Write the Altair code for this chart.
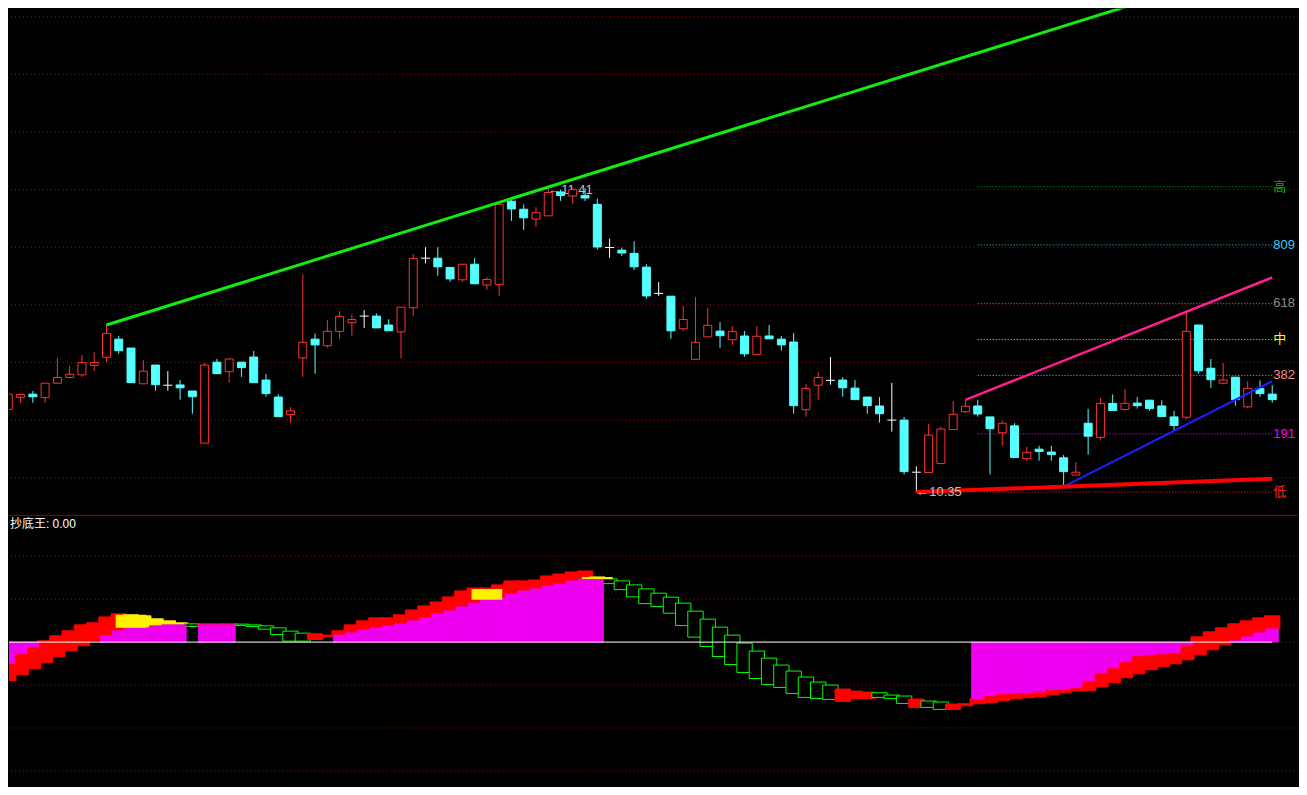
import altair as alt
import pandas as pd

# ---------------- price panel data (daily candles) ----------------
idx = list(range(104))
open_ = [10.637, 10.679, 10.690, 10.678, 10.728, 10.748, 10.757, 10.790, 10.818, 10.881,
         10.850, 10.726, 10.791, 10.721, 10.722, 10.701, 10.520, 10.801, 10.768, 10.801,
         10.819, 10.739, 10.680, 10.619, 10.816, 10.881, 10.858, 10.908, 10.938, 10.961,
         10.961, 10.930, 10.906, 10.990, 11.162, 11.162, 11.130, 11.087, 11.141, 11.069,
         11.071, 11.360, 11.332, 11.298, 11.309, 11.392, 11.378, 11.380, 11.349, 11.199,
         11.190, 11.179, 11.131, 11.040, 11.030, 10.917, 10.811, 10.889, 10.909, 10.879,
         10.892, 10.828, 10.892, 10.881, 10.871, 10.636, 10.721, 10.738, 10.739, 10.711,
         10.680, 10.649, 10.600, 10.600, 10.419, 10.418, 10.449, 10.567, 10.629, 10.649,
         10.611, 10.556, 10.580, 10.466, 10.499, 10.489, 10.469, 10.409, 10.589, 10.540,
         10.658, 10.637, 10.659, 10.669, 10.649, 10.611, 10.610, 10.930, 10.780, 10.728,
         10.749, 10.646, 10.710, 10.690]
high = [10.746, 10.689, 10.701, 10.728, 10.815, 10.788, 10.826, 10.836, 10.930, 10.892,
        10.850, 10.808, 10.791, 10.770, 10.739, 10.701, 10.799, 10.812, 10.816, 10.801,
        10.840, 10.760, 10.690, 10.645, 11.106, 10.901, 10.947, 10.978, 10.967, 10.982,
        10.970, 10.950, 10.992, 11.176, 11.200, 11.200, 11.130, 11.141, 11.162, 11.096,
        11.349, 11.365, 11.349, 11.339, 11.410, 11.400, 11.405, 11.405, 11.369, 11.230,
        11.199, 11.221, 11.141, 11.079, 11.030, 10.996, 11.027, 10.990, 10.940, 10.926,
        10.909, 10.926, 10.930, 10.892, 10.902, 10.725, 10.767, 10.819, 10.749, 10.739,
        10.680, 10.680, 10.729, 10.611, 10.439, 10.587, 10.577, 10.666, 10.670, 10.670,
        10.611, 10.598, 10.589, 10.507, 10.511, 10.511, 10.479, 10.455, 10.639, 10.677,
        10.689, 10.708, 10.680, 10.669, 10.669, 10.632, 10.976, 10.930, 10.812, 10.798,
        10.749, 10.735, 10.738, 10.721]
low = [10.560, 10.660, 10.660, 10.660, 10.728, 10.748, 10.750, 10.771, 10.802, 10.830,
       10.730, 10.726, 10.702, 10.702, 10.671, 10.622, 10.520, 10.761, 10.730, 10.750,
       10.730, 10.681, 10.612, 10.591, 10.750, 10.761, 10.851, 10.882, 10.893, 10.920,
       10.920, 10.910, 10.814, 10.962, 11.144, 11.101, 11.080, 11.080, 11.073, 11.052,
       11.031, 11.291, 11.260, 11.270, 11.309, 11.361, 11.350, 11.361, 11.192, 11.163,
       11.170, 11.121, 11.021, 11.031, 10.882, 10.910, 10.811, 10.889, 10.851, 10.861,
       10.820, 10.828, 10.882, 10.841, 10.622, 10.612, 10.671, 10.723, 10.681, 10.671,
       10.622, 10.591, 10.560, 10.411, 10.350, 10.418, 10.449, 10.567, 10.624, 10.612,
       10.411, 10.511, 10.470, 10.459, 10.459, 10.459, 10.369, 10.409, 10.480, 10.532,
       10.633, 10.632, 10.640, 10.633, 10.612, 10.563, 10.603, 10.761, 10.712, 10.724,
       10.650, 10.641, 10.681, 10.660]
close = [10.690, 10.689, 10.681, 10.728, 10.748, 10.759, 10.800, 10.800, 10.901, 10.841,
         10.730, 10.770, 10.723, 10.721, 10.712, 10.681, 10.791, 10.761, 10.812, 10.782,
         10.730, 10.692, 10.612, 10.632, 10.870, 10.861, 10.908, 10.960, 10.949, 10.961,
         10.920, 10.910, 10.992, 11.161, 11.162, 11.132, 11.090, 11.141, 11.073, 11.088,
         11.349, 11.333, 11.302, 11.320, 11.390, 11.380, 11.400, 11.371, 11.201, 11.199,
         11.180, 11.132, 11.031, 11.040, 10.910, 10.949, 10.870, 10.929, 10.893, 10.908,
         10.830, 10.891, 10.882, 10.861, 10.650, 10.710, 10.748, 10.738, 10.712, 10.671,
         10.650, 10.622, 10.600, 10.421, 10.419, 10.548, 10.569, 10.620, 10.648, 10.621,
         10.570, 10.589, 10.470, 10.488, 10.491, 10.480, 10.421, 10.419, 10.544, 10.658,
         10.633, 10.658, 10.650, 10.640, 10.612, 10.581, 10.908, 10.771, 10.740, 10.739,
         10.671, 10.710, 10.692, 10.671]

grid_prices = [10.4, 10.6, 10.8, 11.0, 11.2, 11.4, 11.6, 11.8, 12.0]

# golden-section levels (right side)
fib_prices = [11.410, 11.208, 11.005, 10.880, 10.755, 10.552, 10.350]
fib_labels = ["高", "809", "618", "中", "382", "191", "低"]
fib_line_colors = ["#00b400", "#33ccff", "#8c8c8c", "#ffff00", "#ff8c8c", "#ff00ff", "#ff2020"]
fib_start, fib_end = 79, 103

# trend lines (index, price)
green_i, green_p = [8, 103], [10.930, 12.194]
pink_i, pink_p = [78, 103], [10.670, 11.095]
blue_i, blue_p = [86, 103], [10.369, 10.735]
redl_i, redl_p = [74, 103], [10.350, 10.396]

# ---------------- indicator panel data ----------------
bar_kind = list("rrrrrrrrrr" "yyyyygrrrg" "gggggrrrrr" "rrrrrrrrrr" "rrrrrrrryg"
                "gggggggggg" "ggggggggrr" "rgggrggrrr" "rrrrrrrrrr" "rrrrrrrrrr" "rrrr")
bar_lo = [-8.93, -7.60, -6.21, -4.81, -3.42, -2.02, -0.86, 0.30, 1.47, 2.63,
          3.33, 3.33, 3.79, 4.02, 4.02, 3.63, 3.79, 3.79, 3.79, 3.86,
          3.63, 3.02, 1.77, 0.23, 0.23, 0.60, 1.23, 1.63, 2.16, 2.86,
          3.33, 3.79, 4.26, 4.95, 5.65, 6.58, 7.28, 8.21, 9.14, 9.84,
          10.30, 11.23, 11.93, 12.40, 13.09, 13.56, 14.26, 14.72, 14.72, 13.63,
          12.23, 10.53, 8.98, 8.28, 6.74, 3.86, 1.16, -1.02, -3.35, -5.21,
          -7.07, -8.47, -9.86, -10.56, -11.95, -12.88, -13.12, -13.35, -13.81, -13.12,
          -13.12, -12.88, -13.12, -14.28, -15.21, -15.21, -15.67, -15.67, -14.81, -14.35,
          -14.12, -13.65, -13.19, -12.95, -12.72, -12.26, -11.79, -11.33, -11.33, -10.40,
          -9.47, -8.30, -7.37, -6.44, -5.74, -5.05, -4.12, -2.95, -1.79, -0.63,
          0.30, 1.23, 2.16, 3.09]
bar_hi = [-5.05, -2.72, -1.09, 0.30, 1.47, 2.63, 4.02, 4.49, 5.88, 6.58,
          6.35, 6.12, 5.42, 4.95, 4.49, 4.26, 4.26, 4.26, 4.26, 4.19,
          4.02, 3.79, 3.33, 2.56, 2.09, 1.93, 1.63, 2.63, 4.02, 4.95,
          5.65, 5.65, 6.35, 7.51, 8.44, 9.37, 10.53, 11.93, 12.63, 12.63,
          13.33, 14.26, 14.26, 14.49, 15.42, 15.88, 16.35, 16.58, 15.19, 14.72,
          14.26, 13.33, 12.40, 11.40, 10.47, 9.07, 7.21, 5.35, 3.49, 1.63,
          -0.23, -2.09, -3.72, -5.35, -6.74, -8.14, -9.30, -10.00, -10.93, -11.40,
          -11.63, -11.79, -12.33, -12.56, -13.26, -13.72, -13.95, -14.42, -14.35, -13.19,
          -12.49, -12.02, -11.91, -11.79, -11.56, -11.09, -10.98, -10.63, -9.00, -7.14,
          -5.98, -4.58, -3.19, -2.95, -2.72, -2.49, -0.63, 1.23, 2.40, 3.33,
          4.26, 4.95, 5.65, 6.12]
N = None
magenta = [-5.05, -2.72, -1.09, N, N, N, N, N, 1.47, 2.63,
           3.33, 3.33, 3.79, 4.02, 4.02, N, 4.02, 4.02, 4.02, N,
           N, N, N, N, N, N, N, 1.63, 2.16, 2.86,
           3.33, 3.79, 4.26, 4.95, 5.65, 6.58, 7.28, 8.21, 9.14, 9.84,
           10.30, 11.23, 11.93, 12.40, 13.09, 13.56, 14.26, 14.72, 14.72, N,
           N, N, N, N, N, N, N, N, N, N,
           N, N, N, N, N, N, N, N, N, N,
           N, N, N, N, N, N, N, N, N, -13.19,
           -12.49, -12.02, -11.91, -11.79, -11.56, -11.09, -10.98, -10.63, -9.00, -7.14,
           -5.98, -4.58, -3.19, -2.95, -2.72, -2.49, -0.63, N, N, N,
           0.30, 1.23, 2.16, 3.09]
wide_i = [10, 39, 48]
wide_lo = [3.33, 9.84, 14.72]
wide_hi = [6.35, 12.40, 15.19]
ind_grid = [20, 10, 0, -10, -20, -30]

# ---------------- styles ----------------
RED = "#ff3232"
CYAN = "#54ffff"
GRID = "#901010"
MAG = "#f000f0"
FONT = "Liberation Sans, Noto Sans CJK SC"
W, H1, H2 = 1291, 507, 272
xs = alt.Scale(domain=[0.057, 105.101], nice=False, zero=False)
ys1 = alt.Scale(domain=[10.2711, 12.0285], nice=False, zero=False)
ys2 = alt.Scale(domain=[-33.605, 29.651], nice=False, zero=False)

cd = pd.DataFrame({"i": idx, "o": open_, "h": high, "l": low, "c": close})
cd["kind"] = ["up" if c > o else ("down" if c < o else "doji") for o, c in zip(open_, close)]
cd["wick"] = cd["kind"].map({"up": RED, "down": CYAN, "doji": "white"})
cd["fill"] = cd["kind"].map({"up": "black", "down": CYAN, "doji": "white"})
cd["line"] = cd["kind"].map({"up": RED, "down": CYAN, "doji": "white"})
cd["x0"] = cd["i"] - 0.325
cd["x1"] = cd["i"] + 0.325
cd["d0"] = cd["i"] - 0.366
cd["d1"] = cd["i"] + 0.366
bodies_df = cd[cd["kind"] != "doji"]
doji_df = cd[cd["kind"] == "doji"]

def X(f):
    return alt.X(f, scale=xs, axis=None)

def Y1(f):
    return alt.Y(f, scale=ys1, axis=None)

def Y2(f):
    return alt.Y(f, scale=ys2, axis=None)

grid1 = alt.Chart(pd.DataFrame({"p": grid_prices})).mark_rule(
    color=GRID, strokeDash=[1, 3], strokeWidth=1).encode(y=Y1("p:Q"))

fib = pd.DataFrame({"p": fib_prices, "lab": fib_labels, "col": fib_line_colors,
                    "x0": fib_start, "x1": fib_end})
fib_lines = alt.Chart(fib).mark_rule(strokeDash=[1, 2], strokeWidth=1).encode(
    x=X("x0:Q"), x2="x1:Q", y=Y1("p:Q"), color=alt.Color("col:N", scale=None))
fib_text = alt.Chart(fib).mark_text(align="left", baseline="middle", dx=1, fontSize=13,
                                    font=FONT, clip=True).encode(
    x=X("x1:Q"), y=Y1("p:Q"), text="lab:N", color=alt.Color("col:N", scale=None))

hi_txt = alt.Chart(pd.DataFrame({"i": [44], "p": [11.41], "t": ["←11.41"]})).mark_text(
    align="left", baseline="middle", dy=3, fontSize=13, font=FONT, color="#c0c0c0").encode(
    x=X("i:Q"), y=Y1("p:Q"), text="t:N")
lo_txt = alt.Chart(pd.DataFrame({"i": [74], "p": [10.35], "t": ["←10.35"]})).mark_text(
    align="left", baseline="middle", dy=0, fontSize=13, font=FONT, color="#c0c0c0").encode(
    x=X("i:Q"), y=Y1("p:Q"), text="t:N")

wicks = alt.Chart(cd).mark_rule(strokeWidth=1, clip=True).encode(
    x=X("i:Q"), y=Y1("l:Q"), y2="h:Q", color=alt.Color("wick:N", scale=None))
bodies = alt.Chart(bodies_df).mark_rect(strokeWidth=1, clip=True).encode(
    x=X("x0:Q"), x2="x1:Q", y=Y1("o:Q"), y2="c:Q",
    fill=alt.Fill("fill:N", scale=None), stroke=alt.Stroke("line:N", scale=None))
doji = alt.Chart(doji_df).mark_rule(strokeWidth=1, color="white", clip=True).encode(
    x=X("d0:Q"), x2="d1:Q", y=Y1("o:Q"))

def trend(ii, pp, color, w):
    return alt.Chart(pd.DataFrame({"i": ii, "p": pp})).mark_line(
        color=color, strokeWidth=w, clip=True).encode(x=X("i:Q"), y=Y1("p:Q"))

top = alt.layer(
    grid1, fib_lines, fib_text, hi_txt, wicks, bodies, doji,
    trend(green_i, green_p, "#10ee10", 3),
    trend(pink_i, pink_p, "#ff1f8e", 2.5),
    trend(blue_i, blue_p, "#1f1fff", 2),
    trend(redl_i, redl_p, "#ff0000", 4),
    lo_txt,
).properties(width=W, height=H1)

# ---------------- indicator panel ----------------
bd = pd.DataFrame({"i": idx, "lo": bar_lo, "hi": bar_hi, "k": bar_kind})
bd["f"] = bd["k"].map({"r": "#ff0000", "y": "#fff000", "g": "black"})
bd["s"] = bd["k"].map({"r": "#ff0000", "y": "#fff000", "g": "#00ff00"})
bd["x0"] = bd["i"] - 0.625
bd["x1"] = bd["i"] + 0.625

md = pd.DataFrame({"i": idx, "m": magenta}).dropna()
md["z"] = 0.0
md["x0"] = md["i"] - 0.5
md["x1"] = md["i"] + 0.5

wd = pd.DataFrame({"i": wide_i, "lo": wide_lo, "hi": wide_hi})
wd["x0"] = wd["i"] - 1.25
wd["x1"] = wd["i"] + 1.25

grid2 = alt.Chart(pd.DataFrame({"v": ind_grid})).mark_rule(
    color=GRID, strokeDash=[1, 3], strokeWidth=1).encode(y=Y2("v:Q"))
border = alt.Chart(pd.DataFrame({"a": [0]})).mark_rule(color="#a00000", strokeWidth=1).encode(
    y=alt.value(0.5))
bars = alt.Chart(bd).mark_rect(strokeWidth=1, clip=True).encode(
    x=X("x0:Q"), x2="x1:Q", y=Y2("lo:Q"), y2="hi:Q",
    fill=alt.Fill("f:N", scale=None), stroke=alt.Stroke("s:N", scale=None))
mag = alt.Chart(md).mark_rect(color=MAG, stroke=MAG, strokeWidth=0.8, clip=True).encode(
    x=X("x0:Q"), x2="x1:Q", y=Y2("z:Q"), y2="m:Q")
wide = alt.Chart(wd).mark_rect(color="#fff000", clip=True).encode(
    x=X("x0:Q"), x2="x1:Q", y=Y2("lo:Q"), y2="hi:Q")
zero = alt.Chart(pd.DataFrame({"a": [0.057], "b": [103], "v": [0]})).mark_rule(
    color="white", strokeWidth=1, clip=True).encode(x=X("a:Q"), x2="b:Q", y=Y2("v:Q"))
title = alt.Chart(pd.DataFrame({"t": ["抄底王: 0.00"]})).mark_text(
    align="left", baseline="middle", fontSize=12, font=FONT, color="white").encode(
    x=alt.value(1), y=alt.value(9), text="t:N")

bottom = alt.layer(grid2, border, bars, mag, wide, zero, title).properties(width=W, height=H2)

chart = alt.vconcat(top, bottom, spacing=0).resolve_scale(
    x="independent", y="independent").properties(padding=0).configure(
    background="black").configure_view(stroke=None)

chart.save("out.html", embed_options={"renderer": "svg", "actions": False})
